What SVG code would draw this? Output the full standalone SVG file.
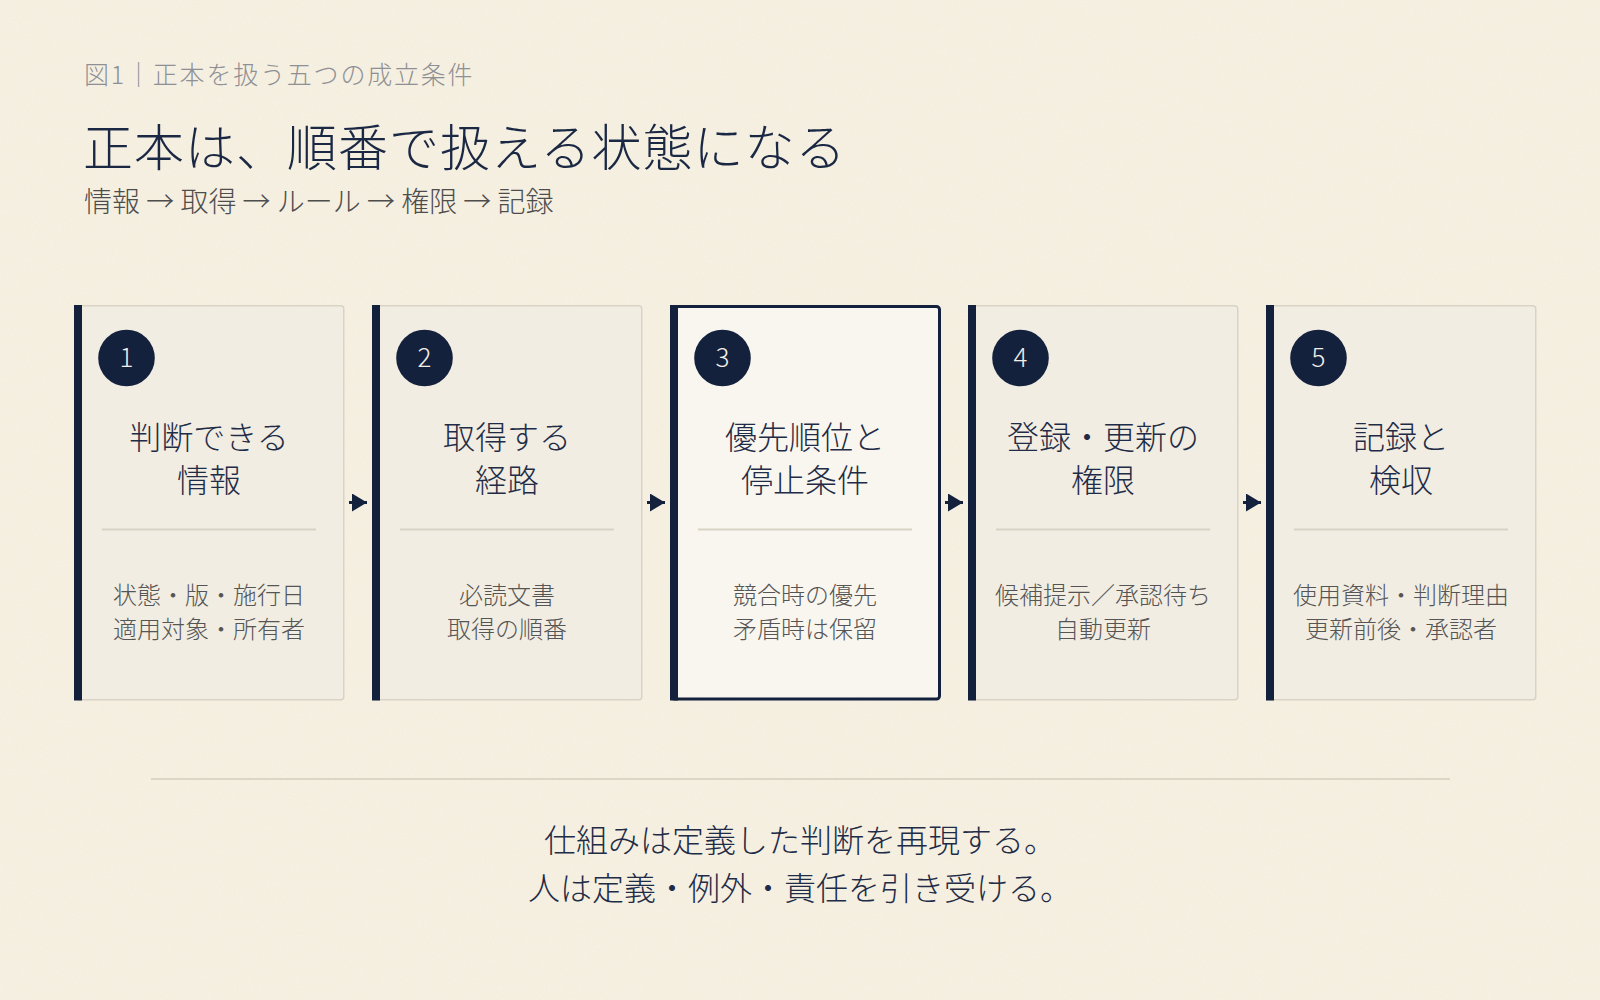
<svg xmlns="http://www.w3.org/2000/svg" width="1600" height="1000" viewBox="0 0 1600 1000">
  <defs>
    <style>
      text { font-family: "Noto Sans CJK JP Light", "Noto Sans CJK JP", "Noto Sans", sans-serif; font-weight: 300; }
      .caption { font-size: 25px; fill: #8e9095; letter-spacing: 1.8px; }
      .title { font-size: 50px; fill: #1b2844; letter-spacing: 1px; }
      .subtitle { font-size: 28px; fill: #4d4d4d; }
      .card { fill: #f1ede2; stroke: #d9d3c5; stroke-width: 1.5; }
      .card-active { fill: #f9f6ef; stroke: #14213d; stroke-width: 3; }
      .bar { fill: #14213d; }
      .badge { fill: #14213d; }
      .badge-num { font-size: 26px; fill: #f3efe6; text-anchor: middle; }
      .card-title { font-size: 32px; fill: #1f2c47; text-anchor: middle; }
      .divider { stroke: #d9d3c5; stroke-width: 2; }
      .body { font-size: 24px; fill: #555555; text-anchor: middle; }
      .conn { stroke: #14213d; stroke-width: 3; fill: none; }
      .foot { font-size: 32px; fill: #1f2c47; text-anchor: middle; }
    </style>
    <marker id="arrow" viewBox="0 0 10 10" refX="10" refY="5" markerWidth="15" markerHeight="18" markerUnits="userSpaceOnUse" orient="auto" preserveAspectRatio="none">
      <path d="M0,0 L10,5 L0,10 Z" fill="#14213d"/>
    </marker>
    <filter id="paper" x="0" y="0" width="100%" height="100%">
      <feTurbulence type="fractalNoise" baseFrequency="0.9" numOctaves="3" seed="4" result="n"/>
      <feColorMatrix in="n" type="matrix" values="0 0 0 0 0.55  0 0 0 0 0.45  0 0 0 0 0.25  0 0 0 0.9 -0.35"/>
    </filter>
  </defs>

  <rect width="1600" height="1000" fill="#f6f0e2"/>
  <rect width="1600" height="1000" filter="url(#paper)" opacity="0.12"/>

  <g id="header">
    <text class="caption" x="84" y="84">図1｜正本を扱う五つの成立条件</text>
    <text class="title" x="83" y="166">正本は、順番で扱える状態になる</text>
    <text class="subtitle" x="84" y="212">情報 → 取得 → ルール → 権限 → 記録</text>
  </g>

  <g id="connectors">
    <line class="conn" x1="349" y1="502.5" x2="367" y2="502.5" marker-end="url(#arrow)"/>
    <line class="conn" x1="647" y1="502.5" x2="665" y2="502.5" marker-end="url(#arrow)"/>
    <line class="conn" x1="945" y1="502.5" x2="963" y2="502.5" marker-end="url(#arrow)"/>
    <line class="conn" x1="1243" y1="502.5" x2="1261" y2="502.5" marker-end="url(#arrow)"/>
  </g>

  <g id="node1">
    <rect class="card" x="74.75" y="305.75" width="269" height="394" rx="3"/>
    <rect class="bar" x="74" y="305" width="8" height="395.5"/>
    <circle class="badge" cx="126.5" cy="358" r="28.3"/>
    <text class="badge-num" x="126.5" y="367">1</text>
    <text class="card-title" x="209" y="449">判断できる</text>
    <text class="card-title" x="209" y="492">情報</text>
    <line class="divider" x1="102" y1="529.5" x2="316" y2="529.5"/>
    <text class="body" x="209" y="604">状態・版・施行日</text>
    <text class="body" x="209" y="638">適用対象・所有者</text>
  </g>

  <g id="node2">
    <rect class="card" x="372.75" y="305.75" width="269" height="394" rx="3"/>
    <rect class="bar" x="372" y="305" width="8" height="395.5"/>
    <circle class="badge" cx="424.5" cy="358" r="28.3"/>
    <text class="badge-num" x="424.5" y="367">2</text>
    <text class="card-title" x="507" y="449">取得する</text>
    <text class="card-title" x="507" y="492">経路</text>
    <line class="divider" x1="400" y1="529.5" x2="614" y2="529.5"/>
    <text class="body" x="507" y="604">必読文書</text>
    <text class="body" x="507" y="638">取得の順番</text>
  </g>

  <g id="node3">
    <rect class="card-active" x="671.5" y="306.5" width="268" height="392.5" rx="3"/>
    <rect class="bar" x="670" y="305" width="8" height="395.5"/>
    <circle class="badge" cx="722.5" cy="358" r="28.3"/>
    <text class="badge-num" x="722.5" y="367">3</text>
    <text class="card-title" x="805" y="449">優先順位と</text>
    <text class="card-title" x="805" y="492">停止条件</text>
    <line class="divider" x1="698" y1="529.5" x2="912" y2="529.5"/>
    <text class="body" x="805" y="604">競合時の優先</text>
    <text class="body" x="805" y="638">矛盾時は保留</text>
  </g>

  <g id="node4">
    <rect class="card" x="968.75" y="305.75" width="269" height="394" rx="3"/>
    <rect class="bar" x="968" y="305" width="8" height="395.5"/>
    <circle class="badge" cx="1020.5" cy="358" r="28.3"/>
    <text class="badge-num" x="1020.5" y="367">4</text>
    <text class="card-title" x="1103" y="449">登録・更新の</text>
    <text class="card-title" x="1103" y="492">権限</text>
    <line class="divider" x1="996" y1="529.5" x2="1210" y2="529.5"/>
    <text class="body" x="1103" y="604">候補提示／承認待ち</text>
    <text class="body" x="1103" y="638">自動更新</text>
  </g>

  <g id="node5">
    <rect class="card" x="1266.75" y="305.75" width="269" height="394" rx="3"/>
    <rect class="bar" x="1266" y="305" width="8" height="395.5"/>
    <circle class="badge" cx="1318.5" cy="358" r="28.3"/>
    <text class="badge-num" x="1318.5" y="367">5</text>
    <text class="card-title" x="1401" y="449">記録と</text>
    <text class="card-title" x="1401" y="492">検収</text>
    <line class="divider" x1="1294" y1="529.5" x2="1508" y2="529.5"/>
    <text class="body" x="1401" y="604">使用資料・判断理由</text>
    <text class="body" x="1401" y="638">更新前後・承認者</text>
  </g>

  <g id="footer">
    <line x1="151" y1="779" x2="1450" y2="779" stroke="#ddd6c6" stroke-width="2"/>
    <text class="foot" x="800" y="852">仕組みは定義した判断を再現する。</text>
    <text class="foot" x="800" y="900">人は定義・例外・責任を引き受ける。</text>
  </g>
</svg>
